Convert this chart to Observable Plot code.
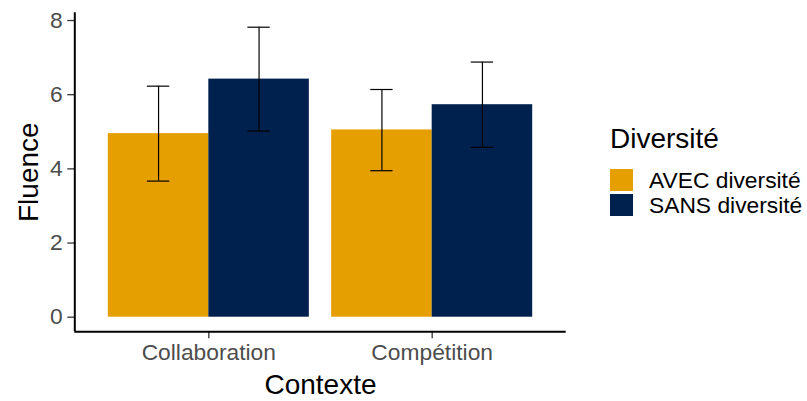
<!DOCTYPE html>
<html>
<head>
<meta charset="utf-8">
<script src="https://cdn.jsdelivr.net/npm/d3@7"></script>
<script src="https://cdn.jsdelivr.net/npm/@observablehq/plot@0.6"></script>
<style>
  body { margin: 0; background: #fff; }
  #wrap { position: relative; width: 807px; height: 401px; font-family: "Liberation Sans", Arial, sans-serif; }
  #legend { position: absolute; left: 610px; top: 123px; }
  #legend .title { font-size: 28px; line-height: 32px; color: #000; margin-bottom: 12.5px; white-space: nowrap; }
  #legend .row { display: flex; align-items: center; height: 25px; }
  #legend .key { width: 23px; height: 22px; }
  #legend .lab { font-size: 22.8px; margin-left: 16px; color: #000; white-space: nowrap; }
  svg g[aria-label="y-axis label"] text, svg g[aria-label="x-axis label"] text { font-size: 28px; fill: #000; }
</style>
</head>
<body>
<div id="wrap"><div id="chart"></div><div id="legend"></div></div>
<script>
// ---- data ----
const contexts = ["Collaboration", "Compétition"];
const diversities = ["AVEC diversité", "SANS diversité"];
const palette = ["#E69F00", "#00204D"];
const legendTitle = "Diversité";
const xTitle = "Contexte";
const yTitle = "Fluence";

const contexte = ["Collaboration", "Collaboration", "Compétition", "Compétition"];
const diversite = ["AVEC diversité", "SANS diversité", "AVEC diversité", "SANS diversité"];
const fluence = [4.95, 6.42, 5.05, 5.73];
const ciLow = [3.67, 5.02, 3.95, 4.58];
const ciHigh = [6.23, 7.82, 6.14, 6.88];
const yTicks = [0, 2, 4, 6, 8];

// ---- ggplot-like dodge positions ----
const dodge = 0.9, capWidth = 0.1;
const barW = dodge / diversities.length;
const rows = fluence.map((v, i) => {
  const g = contexts.indexOf(contexte[i]) + 1;
  const k = diversities.indexOf(diversite[i]);
  const x1 = g - dodge / 2 + k * barW;
  return {contexte: contexte[i], diversite: diversite[i], fluence: v, lo: ciLow[i], hi: ciHigh[i],
          x1, x2: x1 + barW, xc: x1 + barW / 2};
});
const xDomain = [1 - 0.6, contexts.length + 0.6];
const yMax = d3.max(ciHigh), yPad = 0.05 * yMax;
const yDomain = [-yPad, yMax + yPad];

const chart = Plot.plot({
  width: 807, height: 401,
  marginLeft: 74.3, marginRight: 241.3, marginTop: 12.2, marginBottom: 69.8,
  style: {fontFamily: '"Liberation Sans", Arial, sans-serif', fontSize: "22.8px", color: "#4D4D4D", background: "white", overflow: "visible"},
  x: {domain: xDomain},
  y: {domain: yDomain},
  color: {domain: diversities, range: palette},
  marks: [
    Plot.rectY(rows, {x1: "x1", x2: "x2", y1: 0, y2: "fluence", fill: "diversite"}),
    Plot.ruleX(rows, {x: "xc", y1: "lo", y2: "hi", stroke: "black", strokeWidth: 1.2}),
    Plot.ruleY(rows, {y: "lo", x1: d => d.xc - capWidth / 2, x2: d => d.xc + capWidth / 2, stroke: "black", strokeWidth: 1.2}),
    Plot.ruleY(rows, {y: "hi", x1: d => d.xc - capWidth / 2, x2: d => d.xc + capWidth / 2, stroke: "black", strokeWidth: 1.2}),
    Plot.axisY({ticks: yTicks, tickSize: 7, tickPadding: 5, stroke: "#333333", strokeWidth: 1.3,
                label: yTitle, labelAnchor: "center", labelArrow: "none", labelOffset: 57}),
    Plot.axisX({ticks: [1, 2], tickFormat: i => contexts[i - 1], tickSize: 7, tickPadding: 5, stroke: "#333333", strokeWidth: 1.3,
                label: xTitle, labelAnchor: "center", labelArrow: "none", labelOffset: 62}),
    Plot.ruleX([xDomain[0]], {stroke: "black", strokeWidth: 2}),
    Plot.ruleY([yDomain[0]], {stroke: "black", strokeWidth: 2})
  ]
});
document.getElementById("chart").append(chart);

// ---- legend (right side) ----
const legend = d3.select("#legend");
legend.append("div").attr("class", "title").text(legendTitle);
diversities.forEach((d, i) => {
  const r = legend.append("div").attr("class", "row");
  r.append("div").attr("class", "key").style("background", palette[i]);
  r.append("div").attr("class", "lab").text(d);
});
</script>
</body>
</html>
